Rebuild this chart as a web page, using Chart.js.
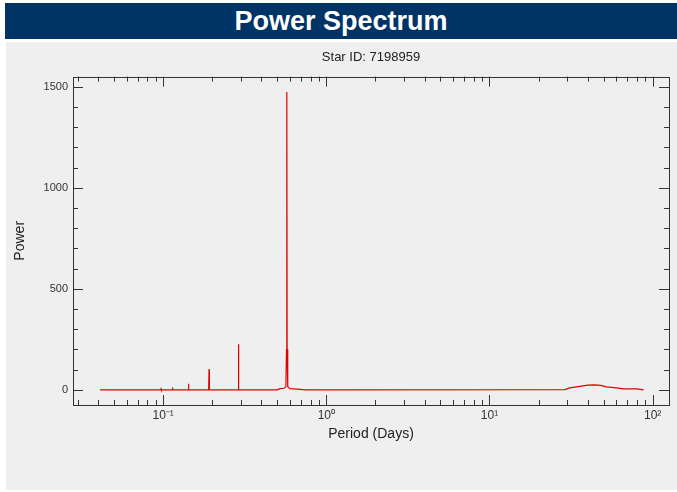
<!DOCTYPE html>
<html>
<head>
<meta charset="utf-8">
<script src="https://cdn.jsdelivr.net/npm/chart.js@4/dist/chart.umd.min.js"></script>
<style>
  html, body { margin: 0; padding: 0; background: #ffffff; width: 677px; height: 492px; overflow: hidden; }
  #banner { position: absolute; left: 5px; top: 3px; width: 672px; height: 36px; background: #003366;
            color: #ffffff; font-family: "Liberation Sans", Arial, sans-serif; font-weight: bold; font-size: 27px;
            line-height: 36px; text-align: center; }
  #panel { position: absolute; left: 6px; top: 42px; width: 671px; height: 448px; background: #efefef; }
  #wrap { position: absolute; left: 0; top: 0; width: 671px; height: 448px; }
</style>
</head>
<body>
<div id="banner">Power Spectrum</div>
<div id="panel"><div id="wrap"><canvas id="c"></canvas></div></div>
<script>
// ---- data ----
const chartTitle = "Star ID: 7198959";
const xAxisTitle = "Period (Days)";
const yAxisTitle = "Power";
const periodDays = [
  0.041, 0.0965, 0.097, 0.0975, 0.1135, 0.114, 0.1145, 0.1425, 0.143, 0.1435,
  0.1900, 0.191, 0.192, 0.2875, 0.289, 0.2895, 0.290, 0.2915,
  0.500, 0.520, 0.550, 0.565, 0.570, 0.5725, 0.575, 0.580, 0.600, 0.660, 0.750,
  29, 31, 35, 40, 44, 48, 52, 60, 66, 80, 88
];
const power = [
  0, 0, 5, 0, 0, 12, 0, 0, 30, 0,
  0, 102, 0, 0, 80, 226, 80, 0,
  0, 6, 8, 15, 200, 1474, 200, 15, 6, 4, 0,
  1, 10, 16, 23, 25, 22, 15, 10, 5, 5, 0
];
const xMajorTicks = [0.1, 1, 10, 100];
const xTickLabels = ["10\u207B\u00B9", "10\u2070", "10\u00B9", "10\u00B2"];
const yMajorTicks = [0, 500, 1000, 1500];
const yTickLabels = ["0", "500", "1000", "1500"];
const yMinorStep = 100;
const xRange = [0.028, 126];
const yRange = [-75, 1550];

const frameColor = "#333333";
const lineColor = "#dd0000";

const framePlugin = {
  id: "frame",
  afterDatasetsDraw(chart) {
    const ctx = chart.ctx, a = chart.chartArea;
    const xs = chart.scales.x, ys = chart.scales.y;
    ctx.save();
    ctx.strokeStyle = frameColor;
    ctx.lineWidth = 1;
    ctx.strokeRect(Math.round(a.left) + 0.5, Math.round(a.top) + 0.5,
                   Math.round(a.right - a.left), Math.round(a.bottom - a.top));
    ctx.beginPath();
    for (let e = -2; e <= 2; e++) {
      for (let m = 1; m <= 9; m++) {
        const v = m * Math.pow(10, e);
        if (v < xRange[0] || v > xRange[1]) continue;
        const px = Math.round(xs.getPixelForValue(v)) + 0.5;
        const len = (m === 1) ? 10 : 5;
        ctx.moveTo(px, a.bottom); ctx.lineTo(px, a.bottom - len);
        ctx.moveTo(px, a.top); ctx.lineTo(px, a.top + len);
      }
    }
    for (let v = 0; v <= yRange[1]; v += yMinorStep) {
      const py = Math.round(ys.getPixelForValue(v)) + 0.5;
      const len = yMajorTicks.includes(v) ? 10 : 5;
      ctx.moveTo(a.left, py); ctx.lineTo(a.left + len, py);
      ctx.moveTo(a.right, py); ctx.lineTo(a.right - len, py);
    }
    ctx.stroke();
    ctx.restore();
  }
};

new Chart(document.getElementById("c"), {
  type: "line",
  data: {
    datasets: [{
      data: periodDays.map((p, i) => ({ x: p, y: power[i] })),
      borderColor: lineColor,
      borderWidth: 1.2,
      pointRadius: 0,
      fill: false,
      tension: 0
    }]
  },
  options: {
    responsive: true,
    maintainAspectRatio: false,
    animation: false,
    devicePixelRatio: 1,
    layout: { padding: { left: 0, right: 8, top: 0, bottom: 35 } },
    plugins: {
      legend: { display: false },
      tooltip: { enabled: false },
      title: {
        display: true, text: chartTitle, fullSize: false, color: "#222",
        font: { family: "Liberation Sans, Arial, sans-serif", size: 13, weight: "normal" },
        padding: { top: 8, bottom: 11 }
      }
    },
    scales: {
      x: {
        type: "logarithmic", min: xRange[0], max: xRange[1],
        afterBuildTicks: s => { s.ticks = xMajorTicks.map(v => ({ value: v })); },
        afterFit: s => { s.height = 50; },
        grid: { display: false, drawTicks: false },
        border: { display: false },
        ticks: {
          autoSkip: false, maxRotation: 0, padding: 3, color: "#333",
          font: { family: "Liberation Sans, Arial, sans-serif", size: 12 },
          callback: (v) => { const i = xMajorTicks.indexOf(v); return i >= 0 ? xTickLabels[i] : ""; }
        },
        title: {
          display: true, text: xAxisTitle, color: "#222",
          font: { family: "Liberation Sans, Arial, sans-serif", size: 14 },
          padding: { top: 0, bottom: 12 }
        }
      },
      y: {
        type: "linear", min: yRange[0], max: yRange[1],
        afterBuildTicks: s => { s.ticks = yMajorTicks.map(v => ({ value: v })); },
        afterFit: s => { s.width = 67; },
        grid: { display: false, drawTicks: false },
        border: { display: false },
        ticks: {
          padding: 5, color: "#333",
          font: { family: "Liberation Sans, Arial, sans-serif", size: 11 },
          callback: (v) => { const i = yMajorTicks.indexOf(v); return i >= 0 ? yTickLabels[i] : ""; }
        },
        title: {
          display: true, text: yAxisTitle, color: "#222",
          font: { family: "Liberation Sans, Arial, sans-serif", size: 14 },
          padding: { top: 6, bottom: 0 }
        }
      }
    }
  },
  plugins: [framePlugin]
});
</script>
</body>
</html>
